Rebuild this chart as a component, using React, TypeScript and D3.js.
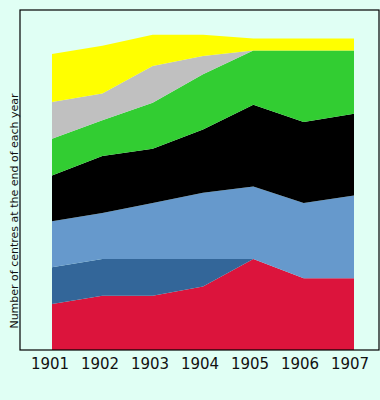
import React from "react";
import * as d3 from "d3";

const years = [1901, 1902, 1903, 1904, 1905, 1906, 1907];
const seriesKeys = ["red", "darkBlue", "lightBlue", "black", "green", "grey", "yellow"];
const red = [5.0, 5.9, 5.9, 6.9, 9.9, 7.8, 7.8];
const darkBlue = [4.0, 4.0, 4.0, 3.0, 0, 0, 0];
const lightBlue = [5.0, 5.0, 6.1, 7.2, 7.9, 8.2, 9.0];
const black = [5.0, 6.2, 5.9, 6.9, 8.9, 8.8, 8.9];
const green = [4.0, 3.9, 5.0, 6.0, 5.9, 7.8, 6.9];
const grey = [4.0, 2.9, 4.0, 2.0, 0, 0, 0];
const yellow = [5.2, 5.2, 3.4, 2.3, 1.3, 1.3, 1.3];
const colors: Record<string, string> = {
  red: "#dc143c",
  darkBlue: "#336699",
  lightBlue: "#6699cc",
  black: "#000000",
  green: "#32cd32",
  grey: "#c0c0c0",
  yellow: "#ffff00",
};
const yLabel = "Number of centres at the end of each year";

export default function App() {
  const W = 380, H = 400;
  const frame = { left: 20, top: 10, right: 379, bottom: 350 };
  const seriesMap: Record<string, number[]> = { red, darkBlue, lightBlue, black, green, grey, yellow };
  const rows = years.map((y, i) => {
    const r: any = { year: y };
    seriesKeys.forEach((k) => (r[k] = seriesMap[k][i]));
    return r;
  });
  const stacked = d3.stack().keys(seriesKeys)(rows);
  const x = d3.scaleLinear().domain([1901, 1907]).range([52, 354]);
  const xLab = d3.scaleLinear().domain([1901, 1907]).range([50, 350]);
  const y = d3.scaleLinear().domain([0, 37]).range([frame.bottom, frame.top]);
  const area = d3
    .area<any>()
    .x((d: any) => x(d.data.year))
    .y0((d: any) => y(d[0]))
    .y1((d: any) => y(d[1]))
    .curve(d3.curveLinear);
  const bg = "#e0fff4";
  return (
    <svg width={W} height={H} style={{ position: "absolute", left: 0, top: 0 }}>
      <rect x={0} y={0} width={W} height={H} fill={bg} />
      {stacked.map((s: any) => (
        <path key={s.key} d={area(s) || ""} fill={colors[s.key]} />
      ))}
      <rect
        x={frame.left}
        y={frame.top}
        width={frame.right - frame.left}
        height={frame.bottom - frame.top}
        fill="none"
        stroke="#000"
        strokeWidth={1.2}
      />
      {years.map((yr) => (
        <text
          key={yr}
          x={xLab(yr)}
          y={369}
          textAnchor="middle"
          fontFamily="DejaVu Sans"
          fontSize={15}
          fill="#111"
        >
          {yr}
        </text>
      ))}
      <text
        transform={`translate(18,211) rotate(-90)`}
        textAnchor="middle"
        fontFamily="DejaVu Sans"
        fontSize={11}
        fill="#111"
      >
        {yLabel}
      </text>
    </svg>
  );
}
